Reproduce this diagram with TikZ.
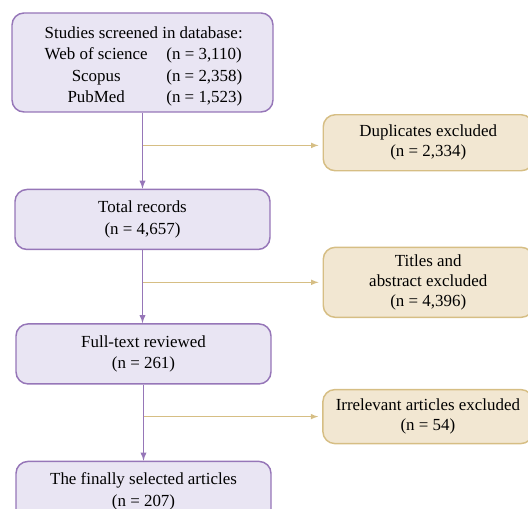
\documentclass[tikz,border=0pt]{standalone}
\usepackage{fontspec}
\setmainfont{Liberation Serif}
\usetikzlibrary{shapes,arrows,positioning,calc}
\definecolor{boxlilac}{RGB}{233,229,243}
\definecolor{edgelilac}{RGB}{150,118,184}
\definecolor{boxtan}{RGB}{242,231,210}
\definecolor{edgetan}{RGB}{214,190,132}

\begin{document}
\begin{tikzpicture}[x=0.75pt,y=-0.75pt,
        stage/.style={
          draw=edgelilac, fill=boxlilac, line width=1.1pt,
          rounded corners=9pt, align=center, inner sep=0pt,
          minimum width=191.25pt, minimum height=45pt,
          font=\fontsize{12.7}{16}\selectfont
        },
        excl/.style={
          draw=edgetan, fill=boxtan, line width=1.1pt,
          rounded corners=9pt, align=center, inner sep=0pt,
          minimum width=157.5pt, minimum height=42pt,
          font=\fontsize{12.7}{15}\selectfont
        },
        flow/.style={-latex, draw=edgelilac, line width=1.1pt},
        side/.style={-latex, draw=edgetan, line width=0.9pt, shorten >=3pt}]

        \useasboundingbox (0,0) rectangle (528,509);
        \clip (0,0) rectangle (528,509);

        % main column
        \node (screen) [stage, minimum width=195.75pt, minimum height=74.25pt] at (142.5,62.5) {
          \begin{tabular}{@{\hspace{5pt}}c@{\hspace{14pt}}l@{}}
            \multicolumn{2}{@{\hspace{5pt}}c@{}}{\rule{0pt}{17pt}Studies screened in database:}\\
            Web of science & (n = 3,110)\\
            Scopus & (n = 2,358)\\
            PubMed & (n = 1,523)
          \end{tabular}
        };
        \node (records) [stage, below=57pt of screen] {Total records\\(n = 4,657)};
        \node (fulltext) [stage, below=54.75pt of records, xshift=0.75pt] {Full-text reviewed\\(n = 261)};
        \node (selected) [stage, below=57pt of fulltext] {The finally selected articles\\(n = 207)};

        % branch points
        \coordinate (b1) at ($(screen.south)!0.43!(records.north)$);
        \coordinate (b2) at ($(records.south)!0.44!(records.south |- fulltext.north)$);
        \coordinate (b3) at ($(fulltext.south)!0.42!(selected.north)$);

        % excluded boxes
        \node (dup) [excl, right=135pt of b1, yshift=2pt] {Duplicates excluded\\(n = 2,334)};
        \node (titles) [excl, right=135pt of b2, minimum height=52.5pt] {Titles and\\abstract excluded\\(n = 4,396)};
        \node (irrel) [excl, right=134pt of b3, minimum height=40.5pt] {Irrelevant articles excluded\\(n = 54)};

        \draw [flow] (screen.south) -- (records.north);
        \draw [flow] (records.south) -- (records.south |- fulltext.north);
        \draw [flow] (fulltext.south) -- (selected.north);

        \draw [side] (b1) -- (b1 -| dup.west);
        \draw [side] (b2) -- (b2 -| titles.west);
        \draw [side] (b3) -- (b3 -| irrel.west);

      \end{tikzpicture}
\end{document}
